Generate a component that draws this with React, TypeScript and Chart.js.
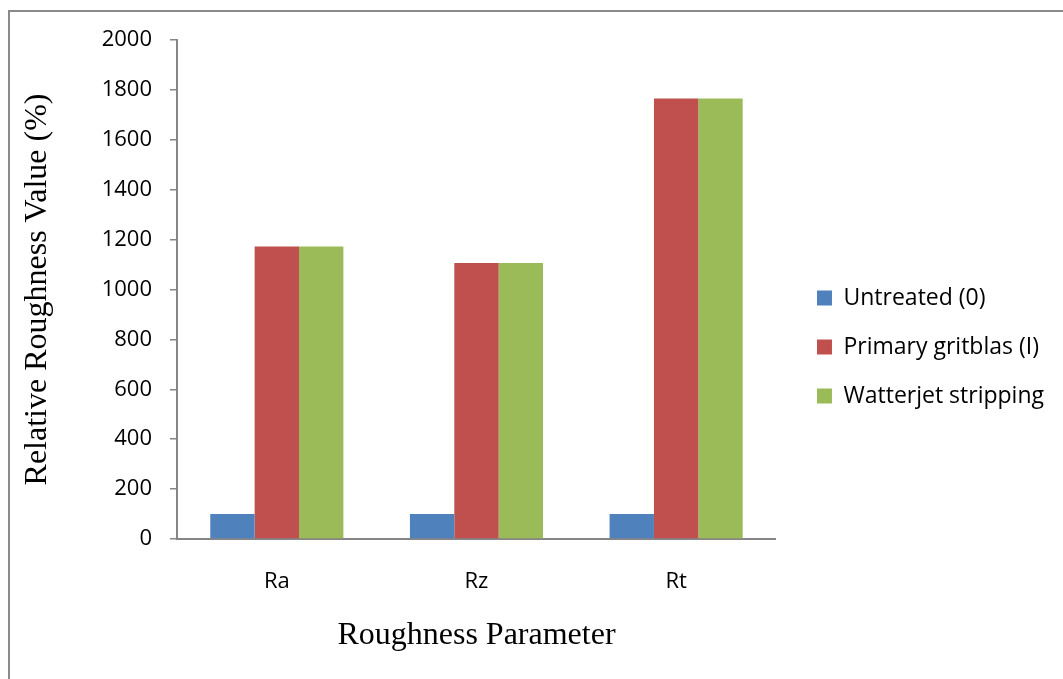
import React, { useEffect, useRef } from "react";
import { Chart, registerables } from "chart.js";

Chart.register(...registerables);

// Roughness parameters on the category axis
const categories = ["Ra", "Rz", "Rt"];

// Relative roughness (%) per surface treatment
const untreated = [100, 100, 100];
const primaryGritblast = [1172, 1106, 1766];
const waterjetStripping = [1172, 1106, 1766];

const seriesLabels = ["Untreated (0)", "Primary gritblas (I)", "Watterjet stripping"];
const seriesColors = ["#4F81BD", "#C0504D", "#9BBB59"];

// Value axis
const yMin = 0;
const yMax = 2000;
const yStep = 200;

const axisGray = "#868686";
const sansFont = "'Open Sans', 'Noto Sans', sans-serif";
const serifFont = "'Liberation Serif', 'DejaVu Serif', serif";

export default function App() {
  const canvasRef = useRef<HTMLCanvasElement | null>(null);

  useEffect(() => {
    const canvas = canvasRef.current;
    if (!canvas) return;
    const values = [untreated, primaryGritblast, waterjetStripping];
    const chart = new Chart(canvas, {
      type: "bar",
      data: {
        labels: categories,
        datasets: values.map((data, i) => ({
          label: seriesLabels[i],
          data,
          backgroundColor: seriesColors[i],
          borderWidth: 0,
          xAxisID: "x",
          yAxisID: "y",
          categoryPercentage: 0.6667,
          barPercentage: 1,
        })),
      },
      options: {
        responsive: false,
        animation: false,
        layout: { padding: { left: 10, top: 15, right: 9, bottom: 0 } },
        plugins: {
          tooltip: { enabled: false },
          legend: {
            position: "right",
            align: "center",
            maxWidth: 320,
            labels: {
              boxWidth: 15,
              boxHeight: 15,
              padding: 26,
              color: "#000",
              font: { family: sansFont, size: 23 },
            },
          },
        },
        scales: {
          x: {
            type: "category",
            position: "bottom",
            grid: { display: false, drawTicks: false, tickLength: 0 },
            border: { display: true, color: axisGray, width: 2 },
            ticks: {
              color: "#000",
              padding: 30,
              font: { family: sansFont, size: 22 },
            },
            title: {
              display: true,
              text: "Roughness Parameter",
              color: "#000",
              font: { family: serifFont, size: 32 },
              padding: { top: 0, bottom: 24 },
            },
            afterFit: (scale: any) => {
              scale.height = 140;
            },
          },
          y: {
            type: "linear",
            position: "left",
            min: yMin,
            max: yMax,
            ticks: {
              stepSize: yStep,
              color: "#000",
              padding: 18,
              font: { family: sansFont, size: 22 },
              callback: (v: any) => String(v),
            },
            grid: {
              display: true,
              drawOnChartArea: false,
              drawTicks: true,
              tickLength: 7,
              color: axisGray,
              lineWidth: 1.5,
            },
            border: { display: true, color: axisGray, width: 2 },
            title: {
              display: true,
              text: "Relative Roughness Value (%)",
              color: "#000",
              font: { family: serifFont, size: 32 },
              padding: { top: 8, bottom: 0 },
            },
            afterFit: (scale: any) => {
              scale.width = 167;
            },
          },
          // spacer axes that keep room above and to the right of the plot
          xTop: {
            type: "linear",
            position: "top",
            display: true,
            grid: { display: false, drawTicks: false },
            border: { display: false },
            ticks: { display: false },
            afterFit: (scale: any) => {
              scale.height = 25;
            },
          },
          yRight: {
            type: "linear",
            position: "right",
            display: true,
            grid: { display: false, drawTicks: false },
            border: { display: false },
            ticks: { display: false },
            afterFit: (scale: any) => {
              scale.width = 15;
            },
          },
        },
      },
    });
    return () => chart.destroy();
  }, []);

  return (
    <div
      style={{
        position: "fixed",
        left: 0,
        top: 0,
        width: 1063,
        height: 679,
        overflow: "hidden",
        background: "#fff",
      }}
    >
      <div
        style={{
          position: "absolute",
          left: 8,
          top: 10,
          width: 1120,
          height: 720,
          border: "2px solid #8a8a8a",
        }}
      />
      <canvas
        ref={canvasRef}
        width={1063}
        height={679}
        style={{ position: "absolute", left: 0, top: 0, width: 1063, height: 679 }}
      />
    </div>
  );
}
